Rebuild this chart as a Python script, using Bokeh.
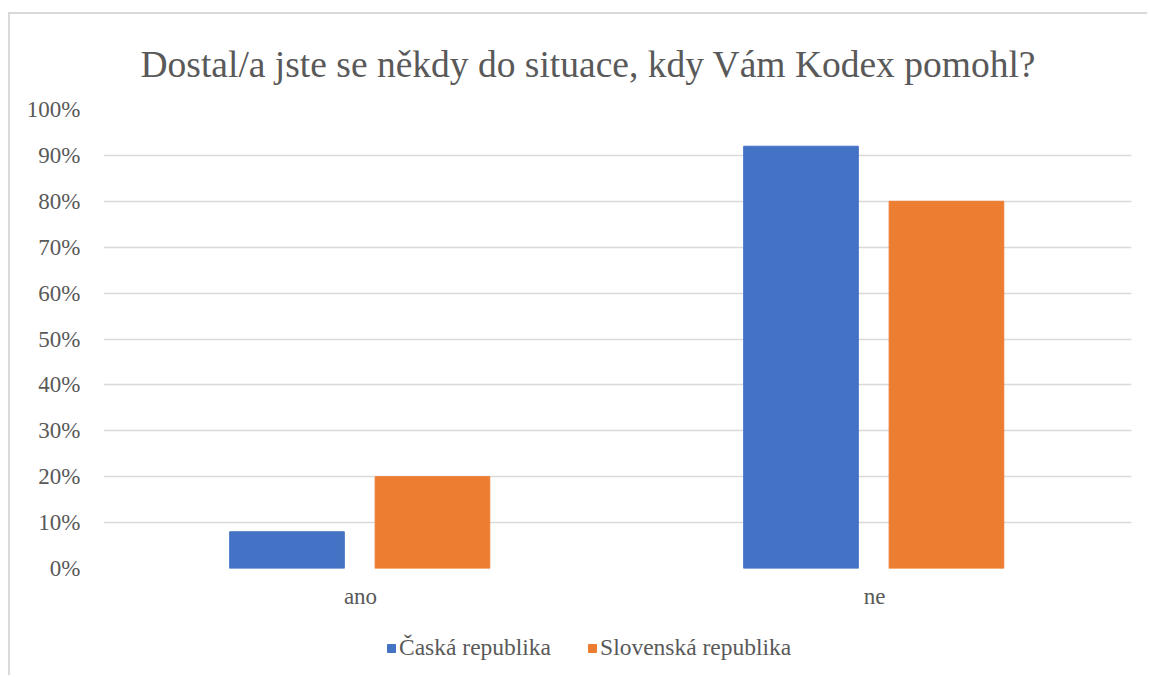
from bokeh.plotting import figure
from bokeh.layouts import column
from bokeh.models import ColumnDataSource, FactorRange, Range1d, NumeralTickFormatter, Legend, LegendItem, SingleIntervalTicker
from bokeh.transform import dodge
from bokeh.embed import file_html
from bokeh.resources import INLINE

title_text = "Dostal/a jste se někdy do situace, kdy Vám Kodex pomohl?"
categories = ["ano", "ne"]
series_names = ["Časká republika", "Slovenská republika"]
cz_values = [0.08, 0.92]
sk_values = [0.20, 0.80]
colors = ["#4472C4", "#ED7D31"]

FONT = "Liberation Serif"
GRAY = "#595959"

source = ColumnDataSource(data=dict(cat=categories, cz=cz_values, sk=sk_values))

# main chart
p = figure(width=1139, height=606, x_range=FactorRange(*categories, range_padding=0),
           y_range=Range1d(0, 1), output_backend="svg", toolbar_location=None,
           min_border_left=93, min_border_right=16, min_border_top=95, min_border_bottom=52)

p.title.text = title_text
p.title.text_font = FONT
p.title.text_font_size = "37.5px"
p.title.text_font_style = "normal"
p.title.text_color = GRAY
p.title.align = "left"
p.title.offset = 37
p.title.standoff = 50

def add_bars(fig):
    a = fig.vbar(x=dodge("cat", -0.143, range=fig.x_range), top="cz", width=0.223, source=source,
                 fill_color=colors[0], line_color=colors[0])
    b = fig.vbar(x=dodge("cat", 0.14, range=fig.x_range), top="sk", width=0.223, source=source,
                 fill_color=colors[1], line_color=colors[1])
    return a, b

add_bars(p)

p.outline_line_color = None
p.xgrid.grid_line_color = None
p.ygrid.grid_line_color = "#d9d9d9"
p.ygrid.grid_line_width = 1.3
p.yaxis.ticker = SingleIntervalTicker(interval=0.1)
p.yaxis.formatter = NumeralTickFormatter(format="0%")
for ax in (p.xaxis[0], p.yaxis[0]):
    ax.axis_line_color = None
    ax.major_tick_line_color = None
    ax.minor_tick_line_color = None
    ax.major_label_text_font = FONT
    ax.major_label_text_font_size = "23px"
    ax.major_label_text_color = GRAY
p.yaxis.major_label_standoff = 17
p.xaxis.major_label_standoff = 9

# legend strip below the chart (same series, bars kept out of view)
lf = figure(width=1139, height=57, x_range=FactorRange(*categories, range_padding=0),
            y_range=Range1d(5, 6), output_backend="svg", toolbar_location=None,
            x_axis_location=None, y_axis_location=None,
            min_border_left=0, min_border_right=0, min_border_top=0, min_border_bottom=0)
lf.outline_line_color = None
lf.xgrid.grid_line_color = None
lf.ygrid.grid_line_color = None
l1, l2 = add_bars(lf)

legend = Legend(items=[LegendItem(label=series_names[0], renderers=[l1]),
                       LegendItem(label=series_names[1], renderers=[l2])],
                orientation="horizontal", location=(283, 16))
legend.label_text_font = FONT
legend.label_text_font_size = "23.5px"
legend.label_text_color = GRAY
legend.glyph_width = 10
legend.glyph_height = 10
legend.spacing = 36
legend.label_standoff = 3
legend.border_line_color = None
legend.background_fill_alpha = 0
legend.padding = 0
legend.margin = 0
lf.add_layout(legend, "center")

layout = column(p, lf, width=1139, height=663, spacing=0,
                styles={"border-left": "2px solid #d9d9d9", "border-top": "2px solid #d9d9d9",
                        "margin-left": "8px", "margin-top": "12px"})

open("out.html", "w").write(file_html(layout, INLINE))
